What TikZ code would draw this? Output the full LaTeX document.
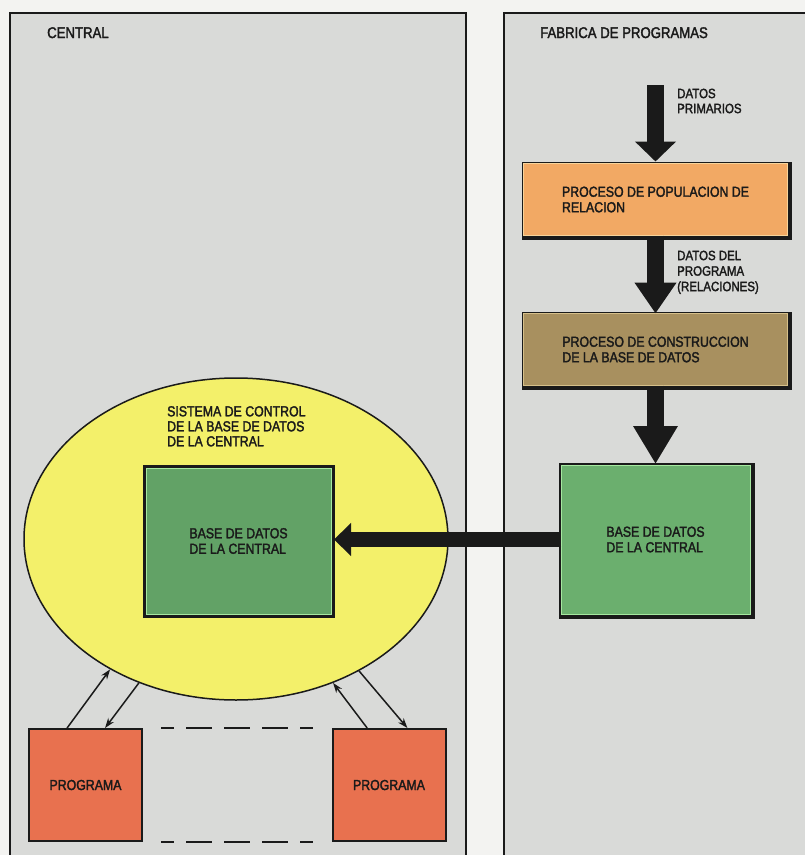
\documentclass[tikz,border=0pt]{standalone}
\usepackage{fontspec}
\setmainfont[FakeStretch=0.85, FakeBold=2]{Liberation Sans}
\usetikzlibrary{arrows.meta,calc,shapes.geometric}

\definecolor{paper}{HTML}{F3F3F1}
\definecolor{panelgray}{HTML}{D9DAD8}
\definecolor{ink}{HTML}{1A1A1A}
\definecolor{popfill}{HTML}{F2A964}
\definecolor{popedge}{HTML}{F8D49A}
\definecolor{buildfill}{HTML}{A8905F}
\definecolor{buildedge}{HTML}{D6C08A}
\definecolor{dbfill}{HTML}{6BAF6E}
\definecolor{dbfillL}{HTML}{62A266}
\definecolor{dbedge}{HTML}{A6E8A0}
\definecolor{ctrlfill}{HTML}{F3F06A}
\definecolor{progfill}{HTML}{E8714F}

\tikzset{
  txt/.style={font=\fontsize{14.5}{15.5}\selectfont, text=ink, inner sep=0pt},
  lbl/.style={font=\fontsize{13.5}{15}\selectfont, text=ink, inner sep=0pt, anchor=north west, align=left},
  panel/.style={draw=ink, line width=2pt, fill=panelgray, anchor=north west, inner sep=0pt},
  procbox/.style={txt, align=left, outer sep=0pt, minimum width=264pt, minimum height=72pt, line width=1pt},
  dbbox/.style={txt, align=left, outer sep=0pt, line width=1pt},
  progbox/.style={txt, draw=ink, line width=2pt, fill=progfill, minimum width=113pt, minimum height=112pt},
  bigarrow/.style={draw=ink, line width=17pt, -{Triangle[length=20pt, width=40pt]}},
  thinarrow/.style={draw=ink, line width=1.5pt, -{Stealth[length=10pt, width=7pt]}},
  gapline/.style={draw=ink, line width=2pt, dash pattern=on 26pt off 12pt, dash phase=13pt}
}

\begin{document}
\begin{tikzpicture}[x=1pt, y=-1pt]
\useasboundingbox (0,0) rectangle (805,855);
\fill[paper] (0,0) rectangle (805,855);
\clip (0,0) rectangle (805,855);

% the two panels
\node[panel, minimum width=456pt, minimum height=880pt] (central) at (9,12) {};
\node[panel, minimum width=330pt, minimum height=880pt] (fabrica) at (503,12) {};
\node[txt, font=\fontsize{15.5}{16}\selectfont, anchor=north west] (centraltitle) at (47,27) {CENTRAL};
\node[txt, font=\fontsize{15.5}{16}\selectfont, anchor=north west] (fabricatitle) at (540,27) {FABRICA DE PROGRAMAS};

% program factory chain
\fill[ink] (521.5,161.5) rectangle (792,240);
\node[procbox, fill=popfill, draw=popedge] (pop) at (655.5,199.5)
  {PROCESO DE POPULACION DE\\RELACION};
\fill[ink] (521.5,311.5) rectangle (792,390);
\node[procbox, fill=buildfill, draw=buildedge] (build) at (655.5,349.5)
  {PROCESO DE CONSTRUCCION\\DE LA BASE DE DATOS};
\fill[ink] (559,463) rectangle (754.5,618.5);
\node[dbbox, fill=dbfill, draw=dbedge, minimum width=189pt, minimum height=149pt] (dbR) at (655.5,539.5)
  {BASE DE DATOS\\DE LA CENTRAL};

\coordinate (rawin) at (655.5,85);
\draw[bigarrow, shorten >=2pt] (rawin) -- (pop.north);
\draw[bigarrow, -{Triangle[length=31pt, width=40pt]}] (pop.south) -- (build.north);
\draw[bigarrow, -{Triangle[length=38pt, width=42pt]}, shorten >=1pt] (build.south) -- (dbR.north);

\node[lbl] (rawlbl) at (677,88.5) {DATOS\\PRIMARIOS};
\node[lbl, font=\fontsize{13.5}{15.5}\selectfont] (proglbl) at (677,250.5) {DATOS DEL\\PROGRAMA\\(RELACIONES)};

% central: control system and its database
\node[ellipse, draw=ink, line width=1.5pt, fill=ctrlfill, minimum width=424pt, minimum height=322pt, inner sep=0pt] (ctrl) at (236,539) {};
\node[txt, anchor=north west, align=left, font=\fontsize{14.5}{15}\selectfont] (ctrllbl) at (167,406)
  {SISTEMA DE CONTROL\\DE LA BASE DE DATOS\\DE LA CENTRAL};
\fill[ink] (143,465) rectangle (334.5,618);
\node[dbbox, fill=dbfillL, draw=dbedge, minimum width=185pt, minimum height=146pt] (dbL) at (238.5,541)
  {BASE DE DATOS\\DE LA CENTRAL};

\draw[draw=ink, line width=15pt, -{Triangle[length=17pt, width=32pt]}, shorten >=3pt]
  (dbR.west) -- (dbR.west -| dbL.east);

% programs
\node[progbox] (prog1) at (85.5,785) {PROGRAMA};
\node[progbox] (prog2) at (389,785) {PROGRAMA};

\draw[thinarrow] ($(prog1.north west)!0.34!(prog1.north east)$) -- (ctrl.226.6);
\draw[thinarrow] (ctrl.236.3) -- ($(prog1.north west)!0.67!(prog1.north east)$);
\draw[thinarrow] ($(prog2.north west)!0.31!(prog2.north east)$) -- (ctrl.304.5);
\draw[thinarrow] (ctrl.313.9) -- ($(prog2.north west)!0.66!(prog2.north east)$);

\draw[gapline] ($(prog1.north east)+(18,0)$) -- ($(prog2.north west)+(-19,0)$);
\draw[gapline] ($(prog1.south east)+(18,0)$) -- ($(prog2.south west)+(-19,0)$);
\end{tikzpicture}
\end{document}
